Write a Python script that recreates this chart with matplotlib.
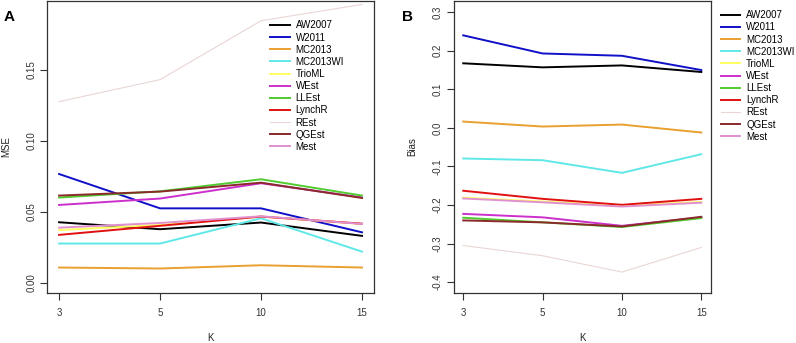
import matplotlib
matplotlib.use("Agg")
from matplotlib import pyplot as plt

plt.rcParams["font.family"] = ["Liberation Sans", "DejaVu Sans"]

k_labels = ["3", "5", "10", "15"]
methods = ["AW2007", "W2011", "MC2013", "MC2013WI", "TrioML", "WEst",
           "LLEst", "LynchR", "REst", "QGEst", "Mest"]
colors = ["#000000", "#1010C8", "#E8A030", "#60E8E8", "#FFFF60", "#CC30CC",
          "#50CC30", "#E01010", "#EBD5D5", "#8B2A2A", "#E090D0"]
widths = [1.4, 1.4, 1.4, 1.4, 1.4, 1.4, 1.4, 1.4, 0.8, 1.4, 1.4]

# MSE per method (K = 3, 5, 10, 15)
mse_aw2007 = [0.0425, 0.0376, 0.0423, 0.0329]
mse_w2011 = [0.0765, 0.0523, 0.0523, 0.0354]
mse_mc2013 = [0.0106, 0.0099, 0.0122, 0.0106]
mse_mc2013wi = [0.0275, 0.0275, 0.0453, 0.0218]
mse_trioml = [0.0370, 0.0406, 0.0465, 0.0413]
mse_west = [0.0547, 0.0592, 0.0700, 0.0600]
mse_llest = [0.0599, 0.0643, 0.0728, 0.0613]
mse_lynchr = [0.0336, 0.0400, 0.0465, 0.0415]
mse_rest = [0.1275, 0.1430, 0.1845, 0.1960]
mse_qgest = [0.0613, 0.0641, 0.0704, 0.0596]
mse_mest = [0.0387, 0.0420, 0.0467, 0.0413]

# Bias per method
bias_aw2007 = [0.1675, 0.1570, 0.1620, 0.1450]
bias_w2011 = [0.2400, 0.1930, 0.1870, 0.1500]
bias_mc2013 = [0.0164, 0.0035, 0.0086, -0.0120]
bias_mc2013wi = [-0.0794, -0.0838, -0.1166, -0.0682]
bias_trioml = [-0.1810, -0.1910, -0.2020, -0.1920]
bias_west = [-0.2230, -0.2320, -0.2540, -0.2320]
bias_llest = [-0.2330, -0.2450, -0.2570, -0.2340]
bias_lynchr = [-0.1630, -0.1840, -0.1995, -0.1840]
bias_rest = [-0.3050, -0.3316, -0.3740, -0.3100]
bias_qgest = [-0.2400, -0.2450, -0.2556, -0.2306]
bias_mest = [-0.1830, -0.1930, -0.2040, -0.1940]

mse = [mse_aw2007, mse_w2011, mse_mc2013, mse_mc2013wi, mse_trioml, mse_west,
       mse_llest, mse_lynchr, mse_rest, mse_qgest, mse_mest]
bias = [bias_aw2007, bias_w2011, bias_mc2013, bias_mc2013wi, bias_trioml, bias_west,
        bias_llest, bias_lynchr, bias_rest, bias_qgest, bias_mest]

x = [1, 2, 3, 4]

fig = plt.figure(figsize=(7.96, 3.43), dpi=100)
axA = fig.add_axes([0.059, 0.146, 0.411, 0.851])
axB = fig.add_axes([0.570, 0.146, 0.323, 0.851])


def style(ax, ylabel, yticks, yfmt):
    ax.set_xlim(0.88, 4.12)
    ax.set_xticks(x)
    ax.set_xticklabels(k_labels)
    ax.set_yticks(yticks)
    ax.set_yticklabels([yfmt.format(v) for v in yticks], rotation=90, va="center")
    ax.tick_params(direction="out", length=4.8, width=0.8, labelsize=7,
                   colors="#333333", pad=6)
    ax.tick_params(axis="y", pad=3)
    for s in ax.spines.values():
        s.set_linewidth(0.9)
        s.set_color("#333333")
    ax.set_xlabel("K", fontsize=7, labelpad=11, color="#222222")
    ax.set_ylabel(ylabel, fontsize=7, labelpad=11, color="#222222")


for vals, c, w, name in zip(mse, colors, widths, methods):
    axA.plot(x, vals, color=c, linewidth=w, label=name)
style(axA, "MSE", [0.0, 0.05, 0.10, 0.15], "{:.2f}")
axA.set_ylim(-0.0073, 0.1984)
axA.legend(loc="upper left", bbox_to_anchor=(0.668, 0.95), frameon=False,
           fontsize=7, handlelength=2.0, labelspacing=0.22, handletextpad=0.6,
           borderpad=0)

for vals, c, w, name in zip(bias, colors, widths, methods):
    axB.plot(x, vals, color=c, linewidth=w, label=name)
style(axB, "Bias", [-0.4, -0.3, -0.2, -0.1, 0.0, 0.1, 0.2, 0.3], "{:.1f}")
axB.set_ylim(-0.428, 0.329)
axB.legend(loc="upper left", bbox_to_anchor=(1.02, 0.985), frameon=False,
           fontsize=7, handlelength=2.0, labelspacing=0.22, handletextpad=0.6,
           borderpad=0)

fig.text(0.004, 0.97, "A", fontsize=11, fontweight="bold", va="top")
fig.text(0.505, 0.97, "B", fontsize=11, fontweight="bold", va="top")

plt.savefig("out.png", dpi=100)
